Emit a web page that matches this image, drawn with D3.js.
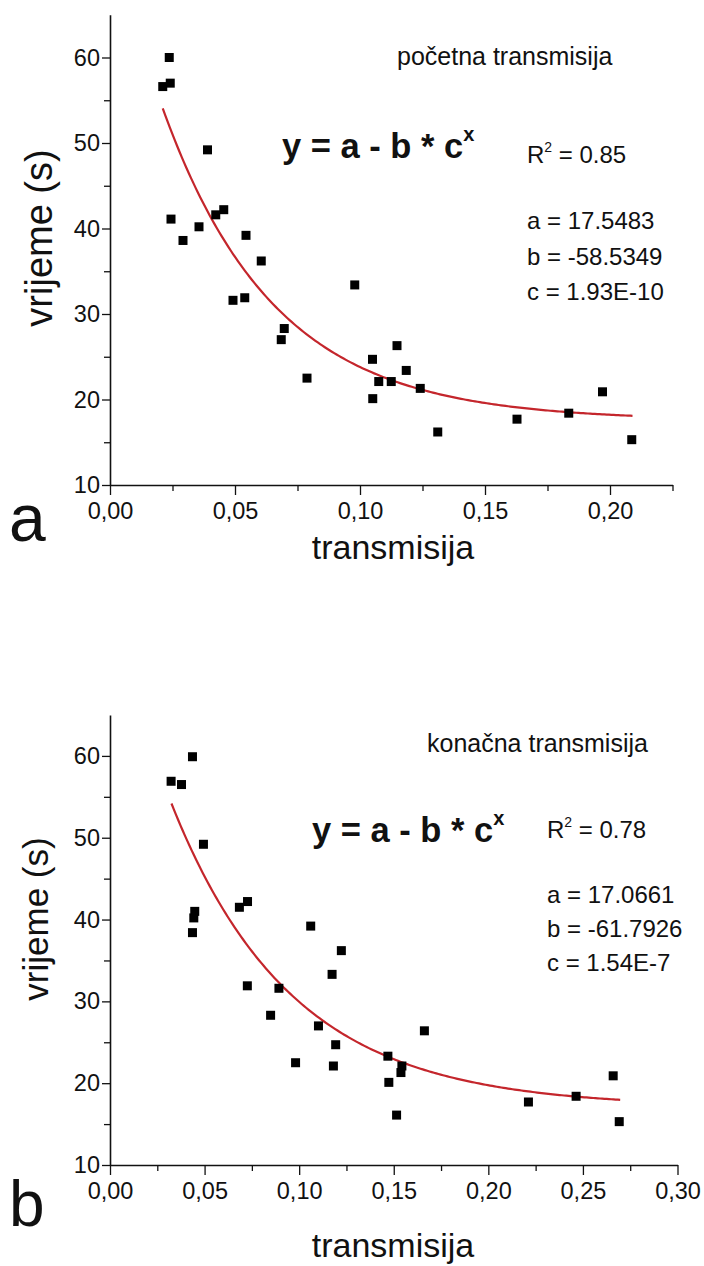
<!DOCTYPE html>
<html><head><meta charset="utf-8">
<script src="https://cdn.jsdelivr.net/npm/d3@7"></script>
<style>
html,body{margin:0;padding:0;background:#fff;}
svg{display:block;}
text{font-family:"Liberation Sans",Arial,sans-serif;fill:#111;}
</style></head>
<body>
<svg id="chart" width="704" height="1266"></svg>
<script>
// ---------- DATA ----------
// Panel a: početna transmisija
const xA = [0.0211,0.0237,0.0241,0.0244,0.0292,0.0356,0.0390,0.0423,0.0455,0.0492,0.0539,0.0544,0.0605,0.0685,0.0697,0.0788,0.0979,0.1050,0.1051,0.1075,0.1125,0.1148,0.1185,0.1241,0.1311,0.1628,0.1835,0.1970,0.2087];
const yA = [56.6,60.0,57.0,41.1,38.6,40.2,49.2,41.6,42.2,31.6,31.9,39.2,36.2,27.0,28.3,22.5,33.4,24.7,20.1,22.1,22.1,26.3,23.4,21.3,16.2,17.7,18.4,20.9,15.3];
const fitA = {a:17.5483, b:-58.5349, c:1.93e-10, xmin:0.0211, xmax:0.2090};
// Panel b: konačna transmisija
const xB = [0.0323,0.0378,0.0436,0.0436,0.0443,0.0448,0.0494,0.0684,0.0726,0.0727,0.0849,0.0893,0.0981,0.1061,0.1102,0.1174,0.1181,0.1193,0.1223,0.1469,0.1474,0.1515,0.1538,0.1543,0.1662,0.2212,0.2464,0.2660,0.2692];
const yB = [56.9,56.5,59.9,38.4,40.2,41.0,49.2,41.5,31.9,42.2,28.3,31.6,22.5,39.2,27.0,33.3,22.1,24.7,36.2,23.3,20.1,16.1,21.3,22.1,26.4,17.7,18.4,20.9,15.3];
const fitB = {a:17.0661, b:-61.7926, c:1.54e-7, xmin:0.0325, xmax:0.2697};

const yTicks = [10,20,30,40,50,60];
const yMinor = [15,25,35,45,55];
const xTicksA = [0.00,0.05,0.10,0.15,0.20];
const xMinorA = [0.025,0.075,0.125,0.175,0.225];
const xTicksB = [0.00,0.05,0.10,0.15,0.20,0.25,0.30];
const xMinorB = [0.025,0.075,0.125,0.175,0.225,0.275];

const panels = [
  {x:xA, y:yA, fit:fitA, xDom:[0,0.225], xRange:[110,672.5], yRange:[485,14.75],
   xt:xTicksA, xm:xMinorA, letter:"a", title:"početna transmisija",
   R2:"0.85", pa:"a = 17.5483", pb:"b = -58.5349", pc:"c = 1.93E-10",
   titleX:397, titleY:65, eqX:282, eqY:158, r2X:527, r2Y:163, parX:527, parY:[229,265,300],
   ylabX:52, ylabY:238, ylabSize:38, letterY:541, letterSize:66, xlabY:559, tickLabY:519},
  {x:xB, y:yB, fit:fitB, xDom:[0,0.30], xRange:[110,677.5], yRange:[1165,715],
   xt:xTicksB, xm:xMinorB, letter:"b", title:"konačna transmisija",
   R2:"0.78", pa:"a = 17.0661", pb:"b = -61.7926", pc:"c = 1.54E-7",
   titleX:427, titleY:752, eqX:312, eqY:842, r2X:547, r2Y:838, parX:547, parY:[903,937,971],
   ylabX:48, ylabY:919, ylabSize:35, letterY:1226, letterSize:64, xlabY:1257, tickLabY:1199}
];

const svg = d3.select("#chart");
const fmtX = d => d3.format(".2f")(d).replace(".", ",");

panels.forEach(p => {
  const x = d3.scaleLinear().domain(p.xDom).range(p.xRange);
  const y = d3.scaleLinear().domain([10,65]).range(p.yRange);
  const g = svg.append("g");
  const x0 = p.xRange[0], y0 = p.yRange[0];

  // minor ticks
  g.append("g").attr("transform",`translate(0,${y0})`)
    .call(d3.axisBottom(x).tickValues(p.xm).tickSize(6).tickFormat(""))
    .call(s=>s.select(".domain").remove())
    .call(s=>s.selectAll("line").attr("stroke","#111").attr("stroke-width",1.3));
  g.append("g").attr("transform",`translate(${x0},0)`)
    .call(d3.axisLeft(y).tickValues(yMinor).tickSize(6).tickFormat(""))
    .call(s=>s.select(".domain").remove())
    .call(s=>s.selectAll("line").attr("stroke","#111").attr("stroke-width",1.3));

  // major axes
  const xa = g.append("g").attr("transform",`translate(0,${y0})`)
    .call(d3.axisBottom(x).tickValues(p.xt).tickSize(10).tickSizeOuter(0).tickPadding(8).tickFormat(fmtX));
  xa.select(".domain").attr("stroke","#111").attr("stroke-width",1.6);
  xa.selectAll("line").attr("stroke","#111").attr("stroke-width",1.3);
  xa.selectAll("text").attr("font-size",23.5).attr("font-family","Liberation Sans, Arial, sans-serif")
    .attr("fill","#111").attr("dy",null).attr("y", p.tickLabY - y0);

  const ya = g.append("g").attr("transform",`translate(${x0},0)`)
    .call(d3.axisLeft(y).tickValues(yTicks).tickSize(8).tickSizeOuter(0).tickPadding(2));
  ya.select(".domain").attr("stroke","#111").attr("stroke-width",1.6);
  ya.selectAll("line").attr("stroke","#111").attr("stroke-width",1.3);
  ya.selectAll("text").attr("font-size",23.5).attr("font-family","Liberation Sans, Arial, sans-serif").attr("fill","#111");

  // fit curve
  const xs = d3.range(0,201).map(i => p.fit.xmin + (p.fit.xmax-p.fit.xmin)*i/200);
  const line = d3.line().x(d=>x(d)).y(d=>y(p.fit.a - p.fit.b*Math.pow(p.fit.c,d)));
  g.append("path").datum(xs).attr("d",line).attr("fill","none")
    .attr("stroke","#c4262c").attr("stroke-width",2.2);

  // points
  const s = 9;
  g.selectAll("rect.pt").data(p.x.map((v,i)=>[v,p.y[i]])).enter().append("rect")
    .attr("class","pt").attr("x",d=>x(d[0])-s/2).attr("y",d=>y(d[1])-s/2)
    .attr("width",s).attr("height",s).attr("fill","#000");

  // texts
  g.append("text").attr("x",p.titleX).attr("y",p.titleY).attr("font-size",25).text(p.title);
  const eq = g.append("text").attr("x",p.eqX).attr("y",p.eqY).attr("font-size",34.5).attr("font-weight","bold");
  eq.append("tspan").text("y = a - b * c");
  eq.append("tspan").attr("font-size",20).attr("dy",-17).text("x");
  const r2 = g.append("text").attr("x",p.r2X).attr("y",p.r2Y).attr("font-size",24);
  r2.append("tspan").text("R");
  r2.append("tspan").attr("font-size",14).attr("dy",-11).text("2");
  r2.append("tspan").attr("dy",11).text(" = "+p.R2);
  [p.pa,p.pb,p.pc].forEach((t,i)=>{
    g.append("text").attr("x",p.parX).attr("y",p.parY[i]).attr("font-size",24).text(t);
  });
  g.append("text").attr("transform",`translate(${p.ylabX},${p.ylabY}) rotate(-90)`)
    .attr("text-anchor","middle").attr("font-size",p.ylabSize).text("vrijeme (s)");
  g.append("text").attr("x",393).attr("y",p.xlabY).attr("text-anchor","middle").attr("font-size",34).text("transmisija");
  g.append("text").attr("x",9).attr("y",p.letterY).attr("font-size",p.letterSize).text(p.letter);
});
</script>
</body></html>
